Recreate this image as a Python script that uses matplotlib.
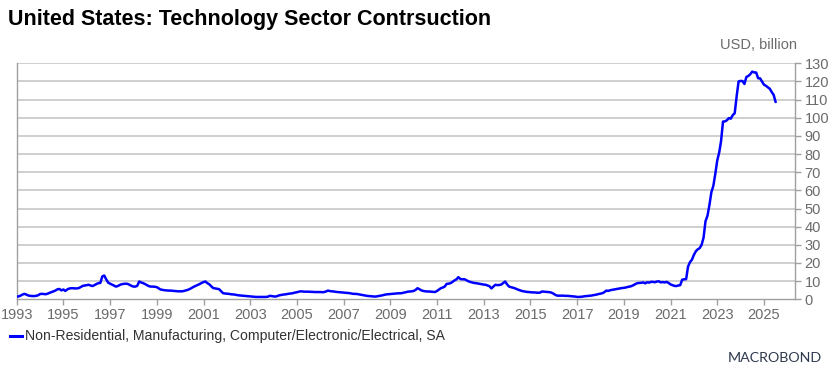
import matplotlib
matplotlib.use("Agg")
import matplotlib.pyplot as plt
import matplotlib.dates as mdates
import numpy as np
import pandas as pd

plt.rcParams['font.family'] = ['Liberation Sans', 'DejaVu Sans']

title = "United States: Technology Sector Contrsuction"
unit_label = "USD, billion"
series_name = "Non-Residential, Manufacturing, Computer/Electronic/Electrical, SA"
start_month = "1993-01-01"

v1993 = [1.5, 1.6, 2.0, 2.6, 3.0, 2.6, 2.1, 1.9, 1.8, 1.8, 1.9, 2.2]
v1994 = [2.9, 3.0, 2.9, 2.8, 3.1, 3.6, 4.0, 4.4, 4.9, 5.5, 5.7, 4.9]
v1995 = [5.4, 4.6, 5.4, 5.9, 6.1, 6.1, 6.0, 6.0, 6.2, 6.8, 7.4, 7.6]
v1996 = [7.8, 8.0, 7.6, 7.3, 7.8, 8.4, 8.9, 9.0, 12.6, 13.1, 11.0, 9.2]
v1997 = [8.6, 8.1, 7.6, 7.0, 7.3, 7.9, 8.3, 8.5, 8.6, 8.5, 8.0, 7.4]
v1998 = [7.0, 7.0, 7.4, 9.8, 9.3, 8.9, 8.4, 7.8, 7.2, 7.0, 7.0, 6.9]
v1999 = [6.7, 6.0, 5.4, 5.2, 5.0, 4.9, 4.8, 4.8, 4.7, 4.6, 4.5, 4.4]
v2000 = [4.4, 4.4, 4.6, 4.9, 5.2, 5.7, 6.3, 6.9, 7.4, 7.9, 8.4, 9.0]
v2001 = [9.5, 9.8, 8.9, 8.3, 7.2, 6.2, 6.0, 5.8, 5.6, 4.5, 3.4, 3.2]
v2002 = [3.1, 3.0, 2.8, 2.7, 2.6, 2.4, 2.2, 2.1, 2.0, 1.9, 1.8, 1.7]
v2003 = [1.6, 1.5, 1.4, 1.3, 1.3, 1.3, 1.3, 1.3, 1.3, 1.4, 1.9, 1.8]
v2004 = [1.6, 1.5, 1.8, 2.2, 2.4, 2.6, 2.7, 2.9, 3.1, 3.2, 3.4, 3.7]
v2005 = [3.9, 4.2, 4.4, 4.3, 4.2, 4.2, 4.2, 4.1, 4.1, 4.0, 4.0, 4.0]
v2006 = [4.0, 3.9, 4.0, 4.3, 4.8, 4.5, 4.4, 4.3, 4.1, 4.0, 3.9, 3.8]
v2007 = [3.7, 3.6, 3.5, 3.4, 3.2, 3.0, 3.0, 2.9, 2.7, 2.5, 2.3, 2.1]
v2008 = [1.9, 1.8, 1.7, 1.6, 1.5, 1.6, 1.8, 2.0, 2.2, 2.5, 2.7, 2.8]
v2009 = [2.9, 3.0, 3.1, 3.2, 3.3, 3.3, 3.4, 3.7, 3.9, 4.2, 4.3, 4.4]
v2010 = [4.6, 5.2, 6.1, 5.6, 4.9, 4.6, 4.4, 4.3, 4.3, 4.2, 4.1, 4.0]
v2011 = [4.6, 5.4, 6.1, 6.5, 7.0, 8.5, 8.6, 8.9, 9.6, 10.4, 11.0, 12.2]
v2012 = [11.2, 11.0, 11.1, 10.6, 10.0, 9.6, 9.3, 9.0, 8.9, 8.7, 8.5, 8.3]
v2013 = [8.1, 8.0, 7.6, 7.2, 6.0, 7.0, 8.0, 7.8, 7.9, 8.1, 9.0, 9.8]
v2014 = [8.2, 7.0, 6.7, 6.4, 6.1, 5.6, 5.2, 4.8, 4.5, 4.3, 4.1, 4.0]
v2015 = [3.9, 3.8, 3.8, 3.7, 3.6, 3.7, 4.3, 4.2, 4.1, 4.0, 3.9, 3.6]
v2016 = [3.0, 2.3, 2.0, 2.0, 2.0, 2.0, 1.9, 1.9, 1.8, 1.7, 1.6, 1.5]
v2017 = [1.3, 1.3, 1.4, 1.5, 1.7, 1.8, 1.9, 2.0, 2.2, 2.4, 2.6, 2.9]
v2018 = [3.1, 3.4, 3.9, 4.8, 4.6, 5.0, 5.2, 5.4, 5.6, 5.8, 6.0, 6.2]
v2019 = [6.3, 6.5, 6.8, 7.0, 7.3, 7.8, 8.4, 8.9, 9.0, 9.1, 9.3, 8.8]
v2020 = [9.4, 9.2, 9.6, 9.6, 9.4, 9.8, 9.9, 9.3, 9.5, 9.3, 9.6, 9.0]
v2021 = [8.2, 7.8, 7.4, 7.3, 7.6, 7.8, 10.8, 11.0, 11.1, 18.0, 20.5, 21.8]
v2022 = [24.5, 26.5, 27.5, 28.2, 30.0, 34.0, 43.0, 46.0, 52.0, 59.0, 62.5, 69.0]
v2023 = [76.5, 81.0, 87.0, 97.9, 98.0, 98.6, 99.8, 99.5, 101.5, 102.5, 112.0, 120.0]
v2024 = [120.3, 120.2, 118.6, 122.5, 123.0, 124.0, 125.4, 125.0, 124.9, 121.8, 121.7, 120.0]
v2025 = [118.2, 117.6, 116.8, 116.0, 114.2, 112.6, 108.8]

values = (v1993 + v1994 + v1995 + v1996 + v1997 + v1998 + v1999 + v2000 + v2001 + v2002
          + v2003 + v2004 + v2005 + v2006 + v2007 + v2008 + v2009 + v2010 + v2011 + v2012
          + v2013 + v2014 + v2015 + v2016 + v2017 + v2018 + v2019 + v2020 + v2021 + v2022
          + v2023 + v2024 + v2025)
dates = pd.date_range(start_month, periods=len(values), freq="MS")

y_ticks = list(range(0, 131, 10))
x_tick_years = list(range(1993, 2026, 2))

W, H = 832, 380
fig = plt.figure(figsize=(W / 100, H / 100), dpi=100)
x0, x1, ytop, ybot = 16.7, 795, 63.3, 299.3
ax = fig.add_axes([x0 / W, 1 - ybot / H, (x1 - x0) / W, (ybot - ytop) / H])

grid_c = "#cccccc"
text_c = "#6b6b6b"
for t in y_ticks[1:]:
    ax.axhline(t, color=grid_c, lw=1.3, zorder=1)

ax.plot(dates, values, color="#0000ff", lw=1.8, zorder=3, solid_joinstyle="round")

ax.set_xlim(pd.Timestamp("1993-01-01"), pd.Timestamp("2026-05-01"))
ax.set_ylim(0, 130)
ax.set_yticks(y_ticks)
ax.yaxis.tick_right()
ax.set_xticks([pd.Timestamp(f"{y}-01-01") for y in x_tick_years])
ax.xaxis.set_major_formatter(mdates.DateFormatter("%Y"))

for s in ["top"]:
    ax.spines[s].set_visible(False)
for s in ["left", "right", "bottom"]:
    ax.spines[s].set_color("#a0a0a0")
    ax.spines[s].set_linewidth(1.0)

ax.tick_params(axis="both", colors="#a0a0a0", labelcolor=text_c, labelsize=10.5, length=4, width=1.0)
ax.tick_params(axis="y", pad=3)
ax.tick_params(axis="x", pad=2)

fig.text(8 / W, 1 - 20 / H, title, fontsize=15.5, fontweight="bold", color="#000000",
         ha="left", va="center")
fig.text(797 / W, 1 - 45 / H, unit_label, fontsize=10.5, color=text_c, ha="right", va="center")

# legend
fig.add_artist(plt.Line2D([10 / W, 22 / W], [1 - 336 / H, 1 - 336 / H], color="#0000ff", lw=2.2))
fig.text(25 / W, 1 - 336 / H, series_name, fontsize=10.1, color="#333333", ha="left", va="center")

fig.text(822 / W, 1 - 358 / H, "MACROBOND", fontsize=10.3, color="#2e3a4d", ha="right", va="center",
         family=["Lato", "DejaVu Sans"])

fig.savefig("out.png", dpi=100)
